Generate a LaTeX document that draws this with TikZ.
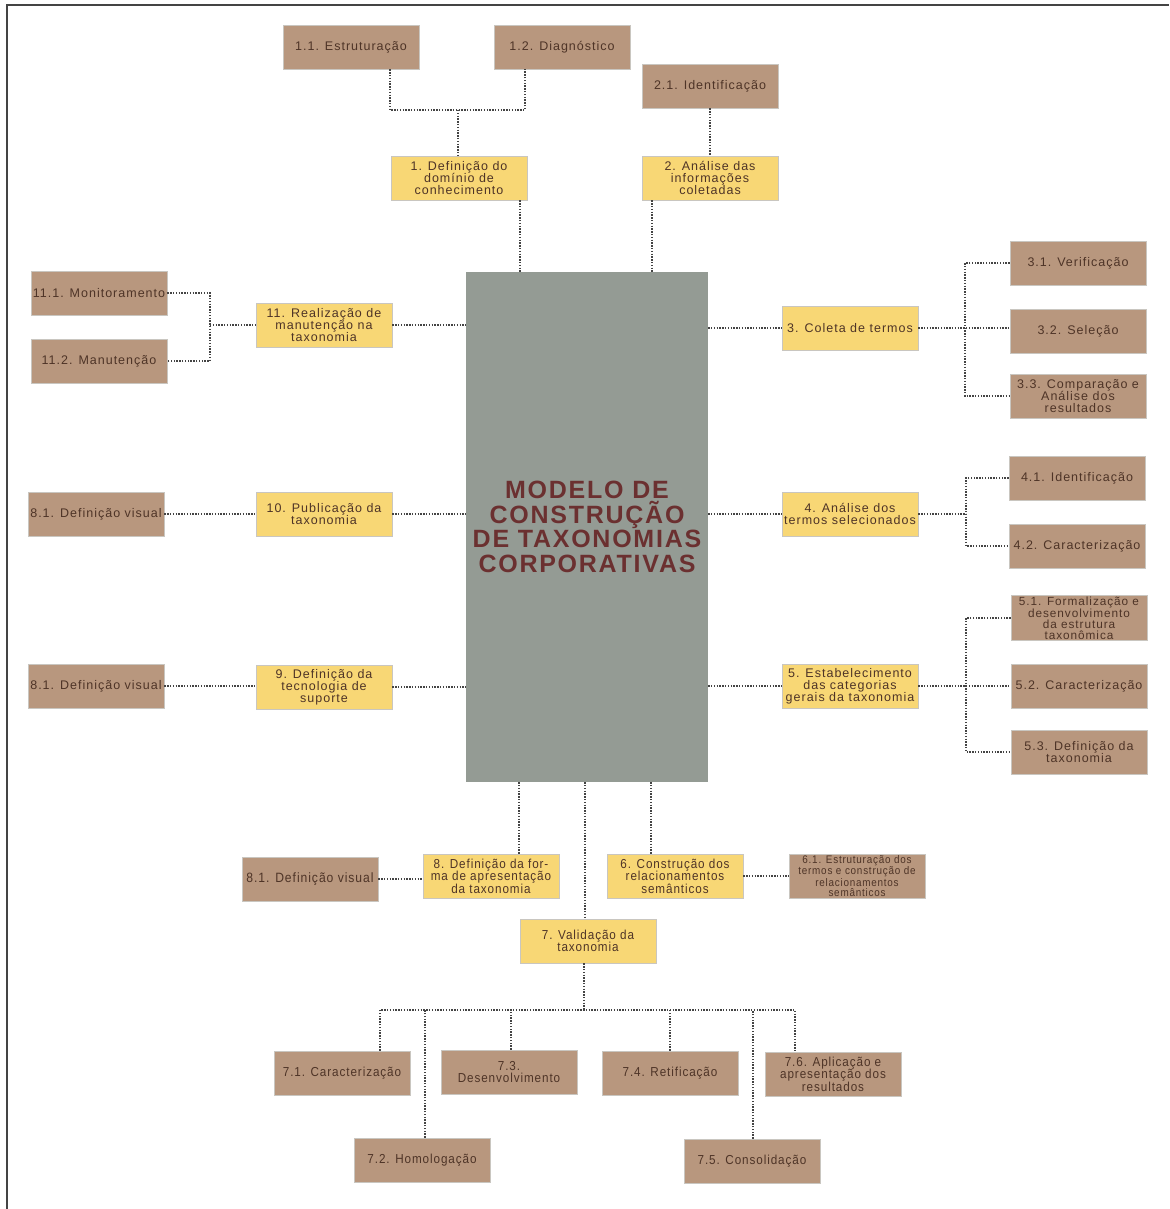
\documentclass[tikz,border=0pt]{standalone}
\usepackage{fontspec}
\setmainfont{Liberation Sans}[LetterSpace=8]
\newfontfamily\condfont{Liberation Sans}[FakeStretch=0.9, LetterSpace=7]
\newfontfamily\titlefont{Liberation Sans}[LetterSpace=7]
\definecolor{brownbox}{HTML}{B8977E}
\definecolor{yellowbox}{HTML}{F8D775}
\definecolor{centergray}{HTML}{949B94}
\definecolor{txt}{HTML}{4E3427}
\definecolor{titletxt}{HTML}{6B3030}
\definecolor{edge}{HTML}{C9C6C0}
\definecolor{dotline}{HTML}{444444}
\definecolor{framec}{HTML}{444444}
\tikzset{
  box/.style={rectangle, draw=edge, line width=0.8pt, minimum width=136pt, minimum height=44pt,
    inner sep=1pt, align=center, text=txt, font=\fontsize{12.5}{12}\selectfont},
  brn/.style={box, fill=brownbox},
  ylw/.style={box, fill=yellowbox},
  cond/.style={font=\condfont\fontsize{13}{12.5}\selectfont},
  conn/.style={draw=dotline, line width=1.4pt, dash pattern=on 1.4pt off 1.4pt},
}
\begin{document}
\begin{tikzpicture}[x=1pt, y=-1pt]
\useasboundingbox (0,0) rectangle (1169,1209);
\draw[framec, line width=2pt] (7,1209) -- (7,5) -- (1169,5);

% center
\node[rectangle, fill=centergray, minimum width=242pt, minimum height=510pt, inner sep=0pt,
  align=center, text=titletxt, font=\titlefont\bfseries\fontsize{25}{24.5}\selectfont]
  (c) at (587,527) {MODELO DE\\CONSTRUÇÃO\\DE TAXONOMIAS\\CORPORATIVAS};

% top
\node[brn] (n11) at (351,47) {1.1. Estruturação};
\node[brn] (n12) at (562,47) {1.2. Diagnóstico};
\node[brn] (n21) at (710,86) {2.1. Identificação};
\node[ylw] (n1) at (459,178) {1. Definição do\\domínio de\\conhecimento};
\node[ylw] (n2) at (710,178) {2. Análise das\\informações\\coletadas};

% left
\node[brn] (m1) at (99,293) {11.1. Monitoramento};
\node[brn] (m2) at (99,361) {11.2. Manutenção};
\node[ylw] (r11) at (324,325) {11. Realização de\\manutenção na\\taxonomia};
\node[brn] (v10) at (96,514) {8.1. Definição visual};
\node[ylw] (n10) at (324,514) {10. Publicação da\\taxonomia};
\node[brn] (v9) at (96,686) {8.1. Definição visual};
\node[ylw] (n9) at (324,687) {9. Definição da\\tecnologia de\\suporte};

% right
\node[ylw] (n3) at (850,328) {3. Coleta de termos};
\node[brn] (s31) at (1078,263) {3.1. Verificação};
\node[brn] (s32) at (1078,331) {3.2. Seleção};
\node[brn] (s33) at (1078,396) {3.3. Comparação e\\Análise dos\\resultados};
\node[ylw] (n4) at (850,514) {4. Análise dos\\termos selecionados};
\node[brn] (s41) at (1077,478) {4.1. Identificação};
\node[brn] (s42) at (1077,546) {4.2. Caracterização};
\node[ylw] (n5) at (850,686) {5. Estabelecimento\\das categorias\\gerais da taxonomia};
\node[brn, font=\fontsize{11.8}{10.8}\selectfont] (s51) at (1079,618) {5.1. Formalização e\\desenvolvimento\\da estrutura\\taxonômica};
\node[brn] (s52) at (1079,686) {5.2. Caracterização};
\node[brn] (s53) at (1079,752) {5.3. Definição da\\taxonomia};

% bottom
\node[ylw, cond] (n8) at (491,876) {8. Definição da for-\\ma de apresentação\\da taxonomia};
\node[brn, cond, font=\condfont\fontsize{13.5}{13}\selectfont] (v8) at (310,879) {8.1. Definição visual};
\node[ylw, cond] (n6) at (675,876) {6. Construção dos\\relacionamentos\\semânticos};
\node[brn, font=\condfont\fontsize{11}{10}\selectfont] (s61) at (857,876) {6.1. Estruturação dos\\termos e construção de\\relacionamentos\\semânticos};
\node[ylw, cond] (n7) at (588,941) {7. Validação da\\taxonomia};
\node[brn, cond] (s71) at (342,1073) {7.1. Caracterização};
\node[brn, cond] (s72) at (422,1160) {7.2. Homologação};
\node[brn, cond] (s73) at (509,1072) {7.3.\\Desenvolvimento};
\node[brn, cond] (s74) at (670,1073) {7.4. Retificação};
\node[brn, cond] (s75) at (752,1161) {7.5. Consolidação};
\node[brn, cond] (s76) at (833,1074) {7.6. Aplicação e\\apresentação dos\\resultados};

% junction coordinates
\coordinate (j1) at (458,110);
\coordinate (a11) at ([xshift=39]n11.south);
\coordinate (a12) at ([xshift=-37]n12.south);
\coordinate (b1) at ([xshift=61]n1.south);
\coordinate (b2) at ([xshift=-58]n2.south);
\coordinate (j11) at (210,325);
\coordinate (j3) at (965,328);
\coordinate (j4) at (966,514);
\coordinate (j5) at (966,686);
\coordinate (b8) at ([xshift=28]n8.north);
\coordinate (b6) at ([xshift=-24]n6.north);
\coordinate (b7) at ([xshift=-3]n7.north);
\coordinate (j7) at (584,1010);
\coordinate (d71) at ([xshift=38]s71.north);
\coordinate (d72) at ([xshift=3]s72.north);
\coordinate (d73) at ([xshift=2]s73.north);
\coordinate (d74) at (s74.north);
\coordinate (d75) at ([xshift=1]s75.north);
\coordinate (d76) at ([xshift=-38]s76.north);

% connectors
\draw[conn] (a11) |- (j1) -| (a12);
\draw[conn] (j1) -- (j1 |- n1.north);
\draw[conn] (n21.south) -- (n21.south |- n2.north);
\draw[conn] (b1) -- (b1 |- c.north);
\draw[conn] (b2) -- (b2 |- c.north);

\draw[conn] (m1.east) -| (j11) |- (m2.east);
\draw[conn] (j11) -- (r11.west);
\draw[conn] (r11.east) -- (r11.east -| c.west);
\draw[conn] (v10.east) -- (n10.west);
\draw[conn] (n10.east) -- (n10.east -| c.west);
\draw[conn] (v9.east) -- (v9.east -| n9.west);
\draw[conn] (n9.east) -- (n9.east -| c.west);

\draw[conn] (n3.west -| c.east) -- (n3.west);
\draw[conn] (n3.east) -- (j3) -- (j3 -| s32.west);
\draw[conn] (s31.west) -| (j3) |- (s33.west);
\draw[conn] (n4.west -| c.east) -- (n4.west);
\draw[conn] (n4.east) -- (j4);
\draw[conn] (s41.west) -| (j4) |- (s42.west);
\draw[conn] (n5.west -| c.east) -- (n5.west);
\draw[conn] (n5.east) -- (j5) -- (s52.west);
\draw[conn] (s51.west) -| (j5) |- (s53.west);

\draw[conn] (b8 |- c.south) -- (b8);
\draw[conn] (b6 |- c.south) -- (b6);
\draw[conn] (b7 |- c.south) -- (b7);
\draw[conn] (v8.east) -- (v8.east -| n8.west);
\draw[conn] (n6.east) -- (s61.west);
\draw[conn] (j7 |- n7.south) -- (j7);
\draw[conn] (d71) |- (j7) -| (d76);
\draw[conn] (d72) -- (d72 |- j7);
\draw[conn] (d73) -- (d73 |- j7);
\draw[conn] (d74) -- (d74 |- j7);
\draw[conn] (d75) -- (d75 |- j7);
\end{tikzpicture}
\end{document}
